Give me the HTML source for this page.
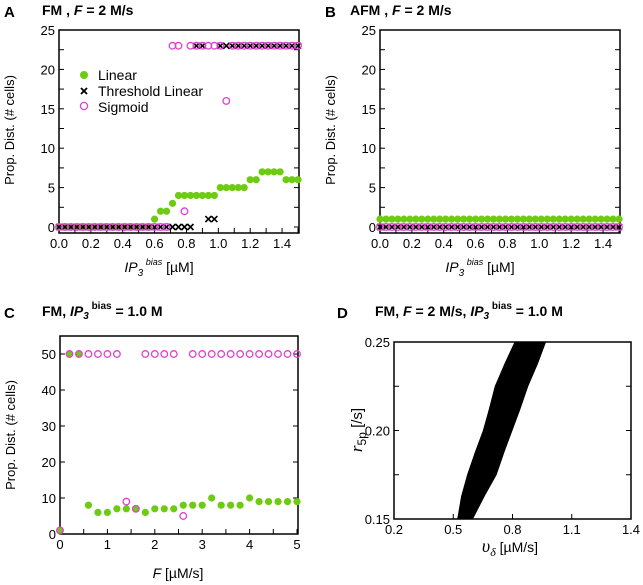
<!DOCTYPE html>
<html><head><meta charset="utf-8">
<style>
html,body{margin:0;padding:0;background:#fff;}
svg{display:block;font-family:"Liberation Sans",Arial,sans-serif;}
</style></head>
<body>
<svg id="fig" width="643" height="585" viewBox="0 0 643 585">
<g id="titles">
<text x="4" y="17" font-size="15" font-weight="bold">A</text>
<text x="42" y="15" font-size="14" font-weight="bold">FM , <tspan font-style="italic">F</tspan> = 2  M/s</text>
<text x="325" y="17" font-size="15" font-weight="bold">B</text>
<text x="350" y="15" font-size="14" font-weight="bold">AFM , <tspan font-style="italic">F</tspan> = 2  M/s</text>
<text x="4" y="318" font-size="15" font-weight="bold">C</text>
<text x="42" y="316" font-size="14" font-weight="bold">FM,  <tspan font-style="italic">IP</tspan><tspan font-style="italic" font-size="10" dy="3">3</tspan><tspan font-size="10" dy="-10"> bias</tspan><tspan dy="7">  = 1.0  M</tspan></text>
<text x="337" y="318" font-size="15" font-weight="bold">D</text>
<text x="375" y="316" font-size="14" font-weight="bold">FM,  <tspan font-style="italic">F</tspan> = 2  M/s,  <tspan font-style="italic">IP</tspan><tspan font-style="italic" font-size="10" dy="3">3</tspan><tspan font-size="10" dy="-10"> bias</tspan><tspan dy="7">  = 1.0  M</tspan></text>
</g>
</svg>
<script>
// Panel A data (x = i*0.0375)
const aN = 41;
const aLinear = [0,0,0,0,0,0,0,0,0,0,0,0,0,0,0,0,1,2,2,3,4,4,4,4,4,4,4,5,5,5,5,5,6,6,7,7,7,7,6,6,6];
const aThreshold = [0,0,0,0,0,0,0,0,0,0,0,0,0,0,0,0,0,0,0,0,0,0,0,23,23,1,1,23,23,23,23,23,23,23,23,23,23,23,23,23,23];
const aSigmoid = [0,0,0,0,0,0,0,0,0,0,0,0,0,0,0,0,0,0,0,23,23,2,23,23,23,23,23,23,16,23,23,23,23,23,23,23,23,23,23,23,23];
// Panel B data
const bLinear = new Array(41).fill(1);
const bThreshold = new Array(41).fill(0);
const bSigmoid = new Array(41).fill(0);
// Panel C data
const cF = [0,0.2,0.4,0.6,0.8,1.0,1.2,1.4,1.6,1.8,2.0,2.2,2.4,2.6,2.8,3.0,3.2,3.4,3.6,3.8,4.0,4.2,4.4,4.6,4.8,5.0];
const cLinear = [1,50,50,8,6,6,7,7,7,6,7,7,7,8,8,8,10,8,8,8,10,9,9,9,9,9];
const cSigmoid = [1,50,50,50,50,50,50,9,7,50,50,50,50,5,50,50,50,50,50,50,50,50,50,50,50,50];
// Panel D region boundary (v_delta, r5p)
const dLeftV = [0.52,0.54,0.57,0.61,0.65,0.68,0.71,0.76,0.81];
const dLeftR = [0.15,0.163,0.175,0.188,0.20,0.212,0.225,0.238,0.25];
const dRightV = [0.97,0.93,0.88,0.84,0.80,0.76,0.72,0.66,0.60];
const dRightR = [0.25,0.238,0.225,0.212,0.20,0.188,0.175,0.163,0.15];

const NS="http://www.w3.org/2000/svg";
const svg=document.getElementById('fig');
function el(tag,attrs,parent){const e=document.createElementNS(NS,tag);for(const k in attrs)e.setAttribute(k,attrs[k]);(parent||svg).appendChild(e);return e;}
function txt(x,y,s,size,anchor,parent){const t=el('text',{x:x,y:y,'font-size':size,'text-anchor':anchor||'middle'},parent);t.textContent=s;return t;}
const GREEN='#6dcc12', PINK='#e040d0';

function makeAxes(o){
  const g=el('g',{});
  
  
  const sx=v=>o.x0+(v-o.xmin)/(o.xmax-o.xmin)*(o.x1-o.x0);
  const sy=v=>o.y0+(v-o.ymin)/(o.ymax-o.ymin)*(o.y1-o.y0);
  el('rect',{x:o.bx0,y:o.by0,width:o.bx1-o.bx0,height:o.by1-o.by0,fill:'none',stroke:'#000','stroke-width':1.5},g);
  o.xt.forEach(v=>{const x=sx(v);
    el('line',{x1:x,x2:x,y1:o.by1,y2:o.by1-5,stroke:'#000'},g);
    if(o.xtTop) el('line',{x1:x,x2:x,y1:o.by0,y2:o.by0+5,stroke:'#000'},g);});
  o.xl.forEach((s,i)=>{const t=txt(sx(o.xlv[i]),o.by1+15,s,13,'middle',g);
    });
  o.yt.forEach(v=>{const y=sy(v);
    el('line',{x1:o.bx0,x2:o.bx0+5,y1:y,y2:y,stroke:'#000'},g);
    el('line',{x1:o.bx1,x2:o.bx1-5,y1:y,y2:y,stroke:'#000'},g);});
  o.yl.forEach((s,i)=>{const t=txt(o.bx0-4,sy(o.ylv[i])+5,s,13,'end',g);
    });
  return {sx,sy,g};
}
function dot(a,x,y,g){const c=el('circle',{cx:a.sx(x),cy:a.sy(y),r:3.6,fill:GREEN},g);
  }
function ring(a,x,y,g){const c=el('circle',{cx:a.sx(x),cy:a.sy(y),r:3.3,fill:'none',stroke:PINK,'stroke-width':1.3},g);
  }
function cross(a,x,y,g){const X=a.sx(x),Y=a.sy(y),p=el('path',{d:`M${X-3},${Y-3}L${X+3},${Y+3}M${X-3},${Y+3}L${X+3},${Y-3}`,stroke:'#000','stroke-width':1.6},g);
  }

const ticksA=[0,0.1,0.2,0.3,0.4,0.5,0.6,0.7,0.8,0.9,1.0,1.1,1.2,1.3,1.4,1.5];
const lblA=['0.0','0.2','0.4','0.6','0.8','1.0','1.2','1.4'], lblAv=[0,0.2,0.4,0.6,0.8,1.0,1.2,1.4];
const yA=[0,2.5,5,7.5,10,12.5,15,17.5,20,22.5,25];
const ylA=['0','5','10','15','20','25'], ylAv=[0,5,10,15,20,25];

function panelAB(ox,name,lin,thr,sig,legend){
  const a=makeAxes({name:name,bx0:ox,bx1:ox+240,by0:30,by1:233,x0:ox,x1:ox+239,xmin:0,xmax:1.5,y0:227,y1:30,ymin:0,ymax:25,
    xt:ticksA,xl:lblA,xlv:lblAv,yt:yA,yl:ylA,ylv:ylAv});
  for(let i=0;i<aN;i++){dot(a,i*0.0375,lin[i],a.g);}
  for(let i=0;i<aN;i++){cross(a,i*0.0375,thr[i],a.g);}
  for(let i=0;i<aN;i++){ring(a,i*0.0375,sig[i],a.g);}
  const yl=el('text',{x:0,y:0,'font-size':13,'text-anchor':'middle',transform:`translate(${ox-45},130) rotate(-90)`});
  yl.textContent='Prop. Dist. (# cells)';
  
  const xl=el('text',{x:ox+100,y:272,'font-size':14,'text-anchor':'middle'});
  xl.innerHTML='<tspan font-style="italic">IP</tspan><tspan font-style="italic" font-size="10" dy="4">3</tspan><tspan font-style="italic" font-size="9" dy="-11"> bias</tspan><tspan dy="7">  [µM]</tspan>';
  
  if(legend){
    const lg=el('g',{});
    el('circle',{cx:84,cy:75,r:4,fill:GREEN},lg); txt(98,80,'Linear',14,'start',lg);
    const X=84,Y=91;el('path',{d:`M${X-3},${Y-3}L${X+3},${Y+3}M${X-3},${Y+3}L${X+3},${Y-3}`,stroke:'#000','stroke-width':1.8},lg);
    txt(98,96,'Threshold Linear',14,'start',lg);
    el('circle',{cx:84,cy:106,r:3.6,fill:'none',stroke:PINK,'stroke-width':1.3},lg); txt(98,112,'Sigmoid',14,'start',lg);
  }
}
panelAB(59,'panel-a-chart',aLinear,aThreshold,aSigmoid,true);
panelAB(380,'panel-b-chart',bLinear,bThreshold,bSigmoid,false);

// Panel C
(function(){
  const a=makeAxes({name:'panel-c-chart',bx0:60,bx1:298,by0:336,by1:534,x0:60,x1:297,xmin:0,xmax:5,y0:534,y1:354,ymin:0,ymax:50,
    xt:[0,0.5,1,1.5,2,2.5,3,3.5,4,4.5,5],xl:['0','1','2','3','4','5'],xlv:[0,1,2,3,4,5],
    yt:[0,10,20,30,40,50],yl:['0','10','20','30','40','50'],ylv:[0,10,20,30,40,50]});
  cF.forEach((f,i)=>dot(a,f,cLinear[i],a.g));
  cF.forEach((f,i)=>ring(a,f,cSigmoid[i],a.g));
  const yl=el('text',{x:0,y:0,'font-size':13,'text-anchor':'middle',transform:'translate(15,435) rotate(-90)'});
  yl.textContent='Prop. Dist. (# cells)';
  const xl=el('text',{x:178,y:578,'font-size':14,'text-anchor':'middle'});
  xl.innerHTML='<tspan font-style="italic">F</tspan>  [µM/s]';
  
})();

// Panel D
(function(){
  const a=makeAxes({name:'panel-d-chart',bx0:394,bx1:631,by0:342,by1:519,x0:394,x1:631,xmin:0.2,xmax:1.4,y0:519,y1:342,ymin:0.15,ymax:0.25,
    xt:[],xl:['0.2','0.5','0.8','1.1','1.4'],xlv:[0.2,0.5,0.8,1.1,1.4],
    yt:[0.175,0.2,0.225],yl:['0.15','0.20','0.25'],ylv:[0.15,0.2,0.25]});
  let d='';
  dLeftV.forEach((v,i)=>{d+=(i?'L':'M')+a.sx(v)+','+a.sy(dLeftR[i]);});
  dRightV.forEach((v,i)=>{d+='L'+a.sx(v)+','+a.sy(dRightR[i]);});
  const p=el('path',{d:d+'Z',fill:'#000'},a.g);
  
  [0.5,0.8,1.1].forEach(v=>el('line',{x1:a.sx(v),x2:a.sx(v),y1:519,y2:514,stroke:'#000'},a.g));
  const yl=el('text',{x:0,y:0,'font-size':15,'text-anchor':'middle',transform:'translate(362,430) rotate(-90)'});
  yl.innerHTML='<tspan font-style="italic" font-family="Liberation Serif" font-size="17">r</tspan><tspan font-size="12" dy="4">5p</tspan><tspan dy="-4"> [/s]</tspan>';
  
  const xl=el('text',{x:510,y:552,'font-size':14,'text-anchor':'middle'});
  xl.innerHTML='<tspan font-style="italic" font-family="Liberation Serif" font-size="18">υ</tspan><tspan font-style="italic" font-family="Liberation Serif" font-size="12" dy="4">δ</tspan><tspan dy="-4"> [µM/s]</tspan>';
  
})();
</script>
</body></html>
